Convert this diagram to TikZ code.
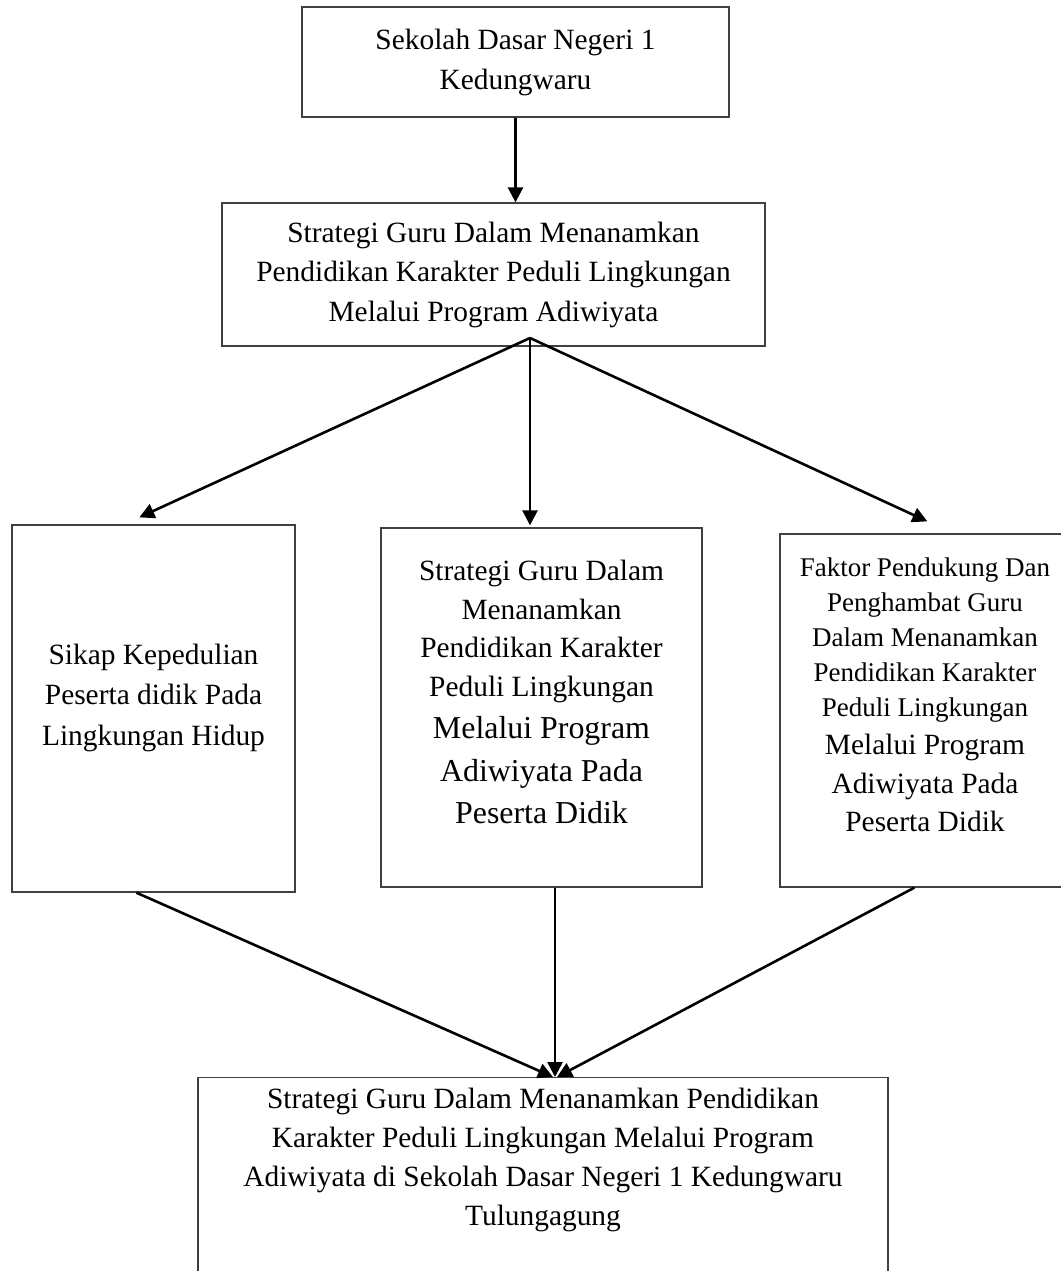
\documentclass[tikz,border=0pt]{standalone}
\usepackage{fontspec}
\setmainfont{Liberation Serif}
\usetikzlibrary{arrows.meta,calc}
\newcommand\padbot[1]{\par\nointerlineskip\hbox{\vrule width0pt height0pt depth#1}}
\begin{document}
\begin{tikzpicture}[x=1pt,y=-1pt,
  box/.style={draw=black!75, line width=1.3pt, inner xsep=4pt, inner ysep=0pt, align=flush center},
  conn/.style={line width=2.6pt, -{Triangle[length=15pt,width=15pt]}},
  big/.style={font=\fontsize{29.4}{40}\selectfont}]
\useasboundingbox (0,0) rectangle (1060,1271);
% boxes
\node[box, big, minimum width=427pt, minimum height=110pt, text width=419pt] (n1) at (515.5,62)
  {Sekolah Dasar Negeri 1\\Kedungwaru};
\node[box, font=\fontsize{29.4}{39.5}\selectfont, minimum width=543pt, minimum height=143pt, text width=535pt] (n2) at (493.5,274.5)
  {Strategi Guru Dalam Menanamkan\\Pendidikan Karakter Peduli Lingkungan\\Melalui Program Adiwiyata};
\node[box, font=\fontsize{29.4}{40.5}\selectfont, minimum width=283pt, minimum height=367pt, text width=275pt] (n3) at (153.5,708.5)
  {Sikap Kepedulian\\Peserta didik Pada\\Lingkungan Hidup\padbot{22pt}};
\node[box, minimum width=321pt, minimum height=359pt, text width=313pt] (n4) at (541.5,707.5)
  {{\fontsize{29.4}{38.5}\selectfont Strategi Guru Dalam\\Menanamkan\\Pendidikan Karakter\\Peduli Lingkungan\par}
   \fontsize{31.9}{42.5}\selectfont Melalui Program\\Adiwiyata Pada\\Peserta Didik\padbot{31pt}};
\node[box, minimum width=290pt, minimum height=353pt, text width=282pt] (n5) at (925,710.5)
  {{\fontsize{27}{35}\selectfont Faktor Pendukung Dan\\Penghambat Guru\\Dalam Menanamkan\\Pendidikan Karakter\\Peduli Lingkungan\par}
   \fontsize{29.4}{38.5}\selectfont Melalui Program\\Adiwiyata Pada\\Peserta Didik\padbot{31.6pt}};
\node[box, font=\fontsize{29.4}{39.3}\selectfont, inner ysep=10pt, minimum width=690pt, text width=682pt, anchor=north] (n6) at (543,1077)
  {Strategi Guru Dalam Menanamkan Pendidikan\\Karakter Peduli Lingkungan Melalui Program\\Adiwiyata di Sekolah Dasar Negeri 1 Kedungwaru\\Tulungagung\padbot{120pt}};
% connectors
\coordinate (apex) at (530,338);
\coordinate (ms) at ([xshift=13.5pt]n4.south);
\coordinate (m) at (ms |- n6.north);
\draw[conn] (n1.south) -- (n1.south |- n2.north);
\draw[conn] (apex) -- ([shift={(128,-7)}]n3.north west);
\draw[conn] (apex) -- ([yshift=2pt]apex |- n4.north);
\draw[conn] (apex) -- ([shift={(148,-12)}]n5.north west);
\draw[conn] ([xshift=125pt]n3.south west) -- ([xshift=-2pt]m);
\draw[conn] (ms) -- (m);
\draw[conn] ([xshift=135pt]n5.south west) -- ([xshift=2pt]m);
\end{tikzpicture}
\end{document}
